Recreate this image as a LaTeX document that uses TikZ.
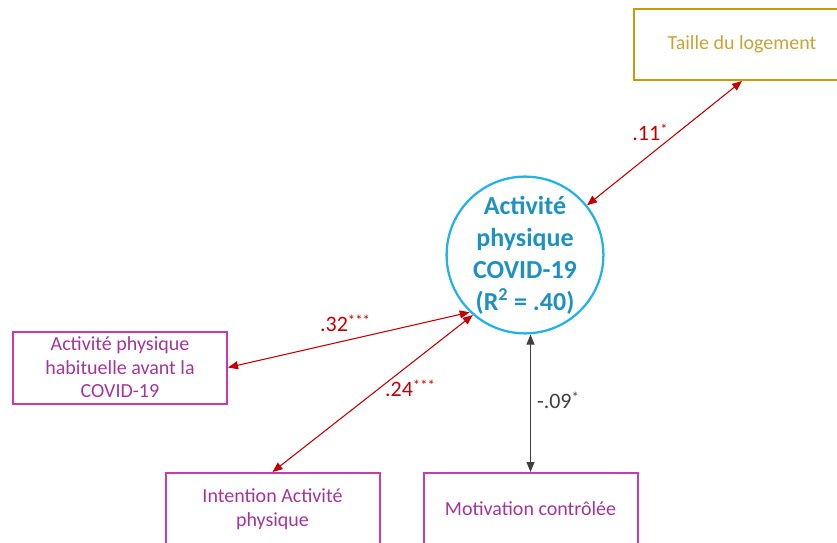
\documentclass[tikz,border=0pt]{standalone}
\usepackage{fontspec}
\setmainfont{Carlito}
\usepackage{tikz}
\usetikzlibrary{arrows.meta}
\definecolor{gold}{HTML}{C59B08}
\definecolor{goldtext}{HTML}{C9A23A}
\definecolor{magenta}{HTML}{C83AAE}
\definecolor{magtext}{HTML}{A2359A}
\definecolor{skyline}{HTML}{22B2E8}
\definecolor{skytext}{HTML}{1E90C2}
\definecolor{pathred}{HTML}{C00000}
\definecolor{pathgray}{HTML}{404040}
\newcommand{\sig}[1]{\raisebox{0.55ex}{\fontsize{11}{11}\selectfont #1}}
\tikzset{varbox/.style={draw=magenta,line width=1.5pt,text=magtext,minimum width=214*0.75pt,minimum height=72*0.75pt,align=center,font=\fontsize{15}{17.6}\selectfont,inner sep=0pt},
         linkred/.style={draw=pathred,line width=0.8pt,{Triangle[length=7.5pt,width=6pt]}-{Triangle[length=7.5pt,width=6pt]}},
         linkgray/.style={draw=pathgray,line width=0.8pt,{Triangle[length=7.5pt,width=6pt]}-{Triangle[length=7.5pt,width=6pt]}},
         coef/.style={text=pathred,font=\fontsize{16.5}{18}\selectfont}}

\begin{document}
\begin{tikzpicture}[x=0.75pt,y=-0.75pt]
\useasboundingbox (0,0) rectangle (837,542);
% central variable
\node[circle,draw=skyline,line width=1.7pt,minimum size=156*0.75pt,inner sep=0pt,text=skytext,align=center,font=\fontsize{19.5}{24}\selectfont\bfseries] (covid) at (525,255) {Activité\\physique\\COVID-19\\(R\textsuperscript{2} = .40)};
% predictors
\node[varbox,draw=gold,text=goldtext,minimum width=216*0.75pt,minimum height=71*0.75pt] (taille) at (742,44.5) {Taille du logement};
\node[varbox] (habit) at (120,367.5) {Activité physique\\habituelle avant la\\COVID-19};
\node[varbox] (intention) at (272.5,509) {Intention Activité\\physique};
\node[varbox] (motiv) at (530.5,509) {Motivation contrôlée};
% links
\draw[linkred] (covid) -- (taille.south);
\draw[linkred] (habit.east) -- (covid.226);
\draw[linkred] (intention.north) -- (covid.229);
\draw[linkgray] (motiv.north) -- (motiv.north |- covid.south);
% coefficients
\node[coef] (c11) at (650,132) {.11\sig{*}};
\node[coef] (c32) at (345,323) {.32\sig{***}};
\node[coef] (c24) at (410,388) {.24\sig{***}};
\node[coef,text=pathgray] (c09) at (558,400) {-.09\sig{*}};
\end{tikzpicture}
\end{document}
